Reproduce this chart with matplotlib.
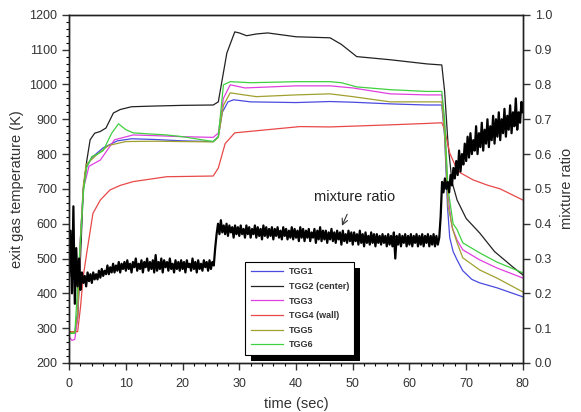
import numpy as np
import matplotlib
matplotlib.use('Agg')
import matplotlib.pyplot as plt
from matplotlib.patches import Rectangle
from matplotlib.ticker import MultipleLocator

plt.rcParams['font.family'] = ['Liberation Sans', 'DejaVu Sans']

# thermocouple readings (time in s, temperature in K)
t_tgg1 = [0, 1, 1.5, 2, 2.5, 3, 4, 6, 8.5, 11, 15, 20, 25.4, 26.3, 27, 28, 29, 32, 40, 46, 50, 57, 63, 65.7,
          66.2, 66.7, 67.1, 67.7, 68.4, 69.4, 71, 72.4, 75.4, 80]
T_tgg1 = [285, 285, 350, 560, 700, 760, 790, 818, 838, 844, 842, 838, 836, 850, 920, 950, 956, 950, 948, 951, 949, 944, 941, 941,
          850, 650, 560, 520, 496, 465, 440, 430, 416, 390]

t_tgg2 = [0, 1, 1.5, 2, 2.5, 3.1, 3.7, 4.5, 5.5, 6.5, 7.8, 9, 11, 15, 20, 25.4, 26.3, 27.8, 29.2, 30, 31.3, 33, 35,
          40, 46, 48, 50.7, 56.6, 63.1, 65.7, 66.2, 66.8, 67.5, 68.4, 70, 72.4, 75, 78.2, 80]
T_tgg2 = [285, 285, 330, 500, 700, 780, 841, 860, 865, 875, 918, 928, 936, 938, 940, 941, 950, 1090, 1151, 1148, 1140, 1145, 1148,
          1137, 1134, 1115, 1080, 1071, 1059, 1056, 980, 830, 720, 668, 615, 573, 520, 476, 453]

t_tgg3 = [0, 0.5, 1, 1.5, 2, 2.5, 3.5, 5.5, 8, 11.3, 15, 20, 25.4, 26.3, 27.2, 28.4, 31, 40, 46, 50, 56.6, 63, 65.7,
          66.2, 66.8, 67.5, 68.4, 69.4, 72.4, 75.4, 80]
T_tgg3 = [275, 265, 268, 330, 560, 700, 765, 783, 841, 855, 853, 850, 848, 860, 960, 999, 990, 996, 996, 990, 973, 970, 970,
          880, 680, 590, 553, 525, 496, 473, 444]

t_tgg4 = [0, 1.5, 2, 2.5, 3.1, 4.2, 5.5, 7.2, 9, 11.3, 17.2, 25.4, 26.3, 27.5, 29.2, 33, 40.7, 46, 56.6, 63, 65.7,
          66.2, 67.1, 68.4, 69, 71.2, 73.7, 76, 80]
T_tgg4 = [290, 290, 360, 450, 516, 630, 668, 697, 710, 721, 735, 737, 760, 830, 861, 867, 879, 878, 884, 888, 890,
          870, 803, 755, 746, 726, 711, 700, 668]

t_tgg5 = [0, 1, 1.5, 2, 2.5, 3, 4, 5, 7, 10, 15, 20, 25.4, 26.3, 27.2, 28.4, 30, 33, 40, 46, 50, 56.6, 63, 65.7,
          66.2, 66.8, 67.7, 68.4, 69.4, 72.4, 75.4, 80]
T_tgg5 = [288, 288, 340, 560, 710, 770, 785, 800, 825, 836, 837, 836, 835, 848, 940, 976, 972, 965, 970, 973, 965, 950, 950, 950,
          860, 650, 580, 545, 502, 467, 444, 404]

t_tgg6 = [0, 1, 1.6, 2.5, 3.1, 4, 5, 6, 7.5, 8.7, 10, 11.3, 14, 17.2, 20, 25.4, 26.3, 27.2, 28.4, 32, 40, 46, 48,
          50.7, 56.6, 63, 65.7, 66.2, 66.8, 67.7, 68.4, 69.4, 72.4, 75.4, 80]
T_tgg6 = [285, 285, 447, 688, 763, 793, 800, 810, 860, 887, 870, 861, 858, 855, 850, 836, 850, 999, 1008, 1005, 1008, 1008, 1005,
          993, 985, 980, 980, 900, 700, 600, 583, 545, 516, 490, 459]

labels = ['TGG1', 'TGG2 (center)', 'TGG3', 'TGG4 (wall)', 'TGG5', 'TGG6']
colors = ['#4a4ae0', '#222222', '#e040e0', '#e84848', '#a0a030', '#40d040']

# mixture ratio sampled every 0.25 s (one row = 5 s)
t_mix = np.arange(0, 80.25, 0.25)
mix = [
    0.25, 0.38, 0.20, 0.45, 0.17, 0.33, 0.22, 0.30, 0.21, 0.26, 0.23, 0.25, 0.22, 0.26, 0.235, 0.255, 0.23, 0.26, 0.24, 0.255,
    0.24, 0.265, 0.245, 0.27, 0.25, 0.265, 0.255, 0.28, 0.255, 0.275, 0.26, 0.285, 0.26, 0.28, 0.265, 0.29, 0.26, 0.285, 0.27, 0.29,
    0.265, 0.295, 0.27, 0.285, 0.26, 0.29, 0.275, 0.30, 0.265, 0.285, 0.27, 0.295, 0.26, 0.29, 0.275, 0.30, 0.265, 0.29, 0.27, 0.295,
    0.26, 0.31, 0.265, 0.29, 0.27, 0.30, 0.26, 0.295, 0.275, 0.29, 0.265, 0.30, 0.27, 0.285, 0.26, 0.295, 0.27, 0.29, 0.265, 0.295,
    0.27, 0.29, 0.26, 0.295, 0.275, 0.285, 0.265, 0.30, 0.27, 0.29, 0.26, 0.295, 0.27, 0.285, 0.265, 0.295, 0.275, 0.29, 0.265, 0.295,
    0.27, 0.29, 0.28, 0.33, 0.37, 0.40, 0.37, 0.41, 0.375, 0.395, 0.37, 0.40, 0.365, 0.395, 0.375, 0.39, 0.36, 0.395, 0.37, 0.39,
    0.365, 0.395, 0.37, 0.385, 0.36, 0.395, 0.37, 0.39, 0.36, 0.385, 0.37, 0.395, 0.36, 0.39, 0.365, 0.385, 0.355, 0.395, 0.365, 0.39,
    0.36, 0.385, 0.365, 0.39, 0.355, 0.385, 0.365, 0.39, 0.36, 0.38, 0.355, 0.39, 0.365, 0.385, 0.355, 0.38, 0.36, 0.39, 0.355, 0.385,
    0.36, 0.38, 0.35, 0.39, 0.36, 0.385, 0.35, 0.38, 0.36, 0.385, 0.35, 0.375, 0.36, 0.385, 0.345, 0.38, 0.355, 0.39, 0.35, 0.38,
    0.355, 0.38, 0.345, 0.375, 0.355, 0.385, 0.35, 0.375, 0.345, 0.38, 0.355, 0.375, 0.34, 0.38, 0.35, 0.37, 0.345, 0.38, 0.35, 0.375,
    0.34, 0.375, 0.35, 0.37, 0.34, 0.38, 0.345, 0.37, 0.335, 0.375, 0.345, 0.365, 0.34, 0.375, 0.345, 0.37, 0.335, 0.37, 0.345, 0.365,
    0.34, 0.37, 0.345, 0.365, 0.335, 0.37, 0.34, 0.365, 0.335, 0.375, 0.30, 0.365, 0.34, 0.37, 0.335, 0.365, 0.345, 0.37, 0.335, 0.365,
    0.34, 0.37, 0.335, 0.365, 0.345, 0.37, 0.335, 0.365, 0.34, 0.37, 0.335, 0.365, 0.345, 0.37, 0.335, 0.365, 0.34, 0.37, 0.335, 0.365,
    0.34, 0.36, 0.42, 0.52, 0.49, 0.53, 0.50, 0.52, 0.49, 0.54, 0.51, 0.56, 0.53, 0.58, 0.54, 0.61, 0.55, 0.60, 0.57, 0.63,
    0.58, 0.65, 0.59, 0.66, 0.60, 0.64, 0.61, 0.68, 0.60, 0.66, 0.62, 0.69, 0.61, 0.67, 0.63, 0.70, 0.62, 0.68, 0.64, 0.71,
    0.63, 0.70, 0.65, 0.72, 0.64, 0.70, 0.66, 0.73, 0.65, 0.71, 0.67, 0.74, 0.66, 0.72, 0.68, 0.76, 0.67, 0.72, 0.69, 0.75,
    0.72]

fig = plt.figure(figsize=(5.81, 4.12), dpi=100)
ax = fig.add_axes([0.119, 0.119, 0.781, 0.845])
ax2 = ax.twinx()

series = [(t_tgg1, T_tgg1), (t_tgg2, T_tgg2), (t_tgg3, T_tgg3),
          (t_tgg4, T_tgg4), (t_tgg5, T_tgg5), (t_tgg6, T_tgg6)]
handles = []
for (t, T), lab, c in zip(series, labels, colors):
    h, = ax.plot(t, T, color=c, lw=0.9, label=lab)
    handles.append(h)

ax2.plot(t_mix, mix, color='black', lw=1.6)

ax.set_xlim(0, 80)
ax.set_ylim(200, 1200)
ax2.set_ylim(0, 1.0)
ax.xaxis.set_major_locator(MultipleLocator(10))
ax.xaxis.set_minor_locator(MultipleLocator(2))
ax.yaxis.set_major_locator(MultipleLocator(100))
ax.yaxis.set_minor_locator(MultipleLocator(20))
ax2.yaxis.set_major_locator(MultipleLocator(0.1))

ax.tick_params(which='major', direction='out', length=5, width=1, labelsize=9, colors='#333333')
ax.tick_params(which='minor', direction='out', length=2.5, width=0.8)
ax.tick_params(axis='x', which='major', pad=6)
ax2.tick_params(which='major', direction='out', length=5, width=1, labelsize=9, colors='#333333')
for a in (ax, ax2):
    for s in a.spines.values():
        s.set_linewidth(1.0)
        s.set_color('#222222')

ax.set_xlabel('time (sec)', fontsize=10.5, color='#333333', labelpad=5)
ax.set_ylabel('exit gas temperature (K)', fontsize=10.5, color='#333333', labelpad=4)
ax2.set_ylabel('mixture ratio', fontsize=10.5, color='#333333', labelpad=6)

ax2.annotate('mixture ratio', xy=(48.1, 0.394), xytext=(50.4, 0.477),
             fontsize=10.5, color='#222222', ha='center', va='center',
             arrowprops=dict(arrowstyle='->', color='#333333', lw=0.8, shrinkA=6, shrinkB=0))

# legend with a solid drop shadow
leg = ax2.legend(handles=handles, loc='upper left', bbox_to_anchor=(0.388, 0.29),
                 fontsize=6.5, frameon=True, fancybox=False, framealpha=1,
                 edgecolor='black', handlelength=3.6, labelspacing=0.62,
                 borderpad=0.6, handletextpad=0.6, borderaxespad=0)
leg.get_frame().set_linewidth(0.8)
for txt in leg.get_texts():
    txt.set_fontweight('bold')
    txt.set_color('#333333')
fig.canvas.draw()
bb = leg.get_window_extent().transformed(ax2.transAxes.inverted())
ax2.add_patch(Rectangle((bb.x0 + 0.013, bb.y0 - 0.018), bb.width, bb.height,
                        transform=ax2.transAxes, facecolor='black', edgecolor='none', zorder=4))
leg.set_zorder(5)

fig.savefig('out.png', dpi=100)
